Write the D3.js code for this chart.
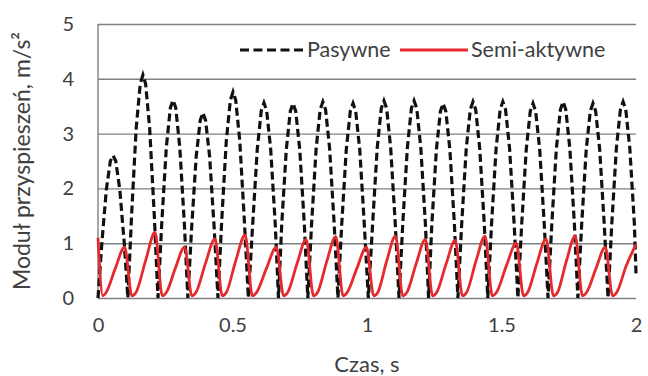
<!DOCTYPE html>
<html>
<head>
<meta charset="utf-8">
<script src="https://cdn.jsdelivr.net/npm/d3@7"></script>
<style>
  body { margin: 0; background: #fff; }
  svg { display: block; }
  text { font-family: Lato, "Open Sans", sans-serif; fill: #404040; }
</style>
</head>
<body>
<svg id="chart"></svg>
<script>
// passive suspension: acceleration modulus, one hump per line
var pasywneT = [
  0, 0.014, 0.031, 0.046, 0.056, 0.066, 0.081, 0.098, 0.111,
  0.125, 0.142, 0.157, 0.167, 0.177, 0.192, 0.209, 0.223,
  0.237, 0.254, 0.269, 0.279, 0.289, 0.304, 0.321, 0.334,
  0.348, 0.365, 0.38, 0.39, 0.4, 0.415, 0.432, 0.446,
  0.46, 0.477, 0.492, 0.502, 0.512, 0.527, 0.544, 0.559,
  0.575, 0.592, 0.607, 0.617, 0.627, 0.642, 0.659, 0.671,
  0.683, 0.7, 0.715, 0.725, 0.735, 0.75, 0.767, 0.78,
  0.794, 0.811, 0.826, 0.836, 0.846, 0.861, 0.878, 0.892,
  0.906, 0.923, 0.938, 0.948, 0.958, 0.973, 0.99, 1.005,
  1.021, 1.038, 1.053, 1.063, 1.073, 1.088, 1.105, 1.119,
  1.133, 1.15, 1.165, 1.175, 1.185, 1.2, 1.217, 1.229,
  1.241, 1.258, 1.273, 1.283, 1.293, 1.308, 1.325, 1.338,
  1.352, 1.369, 1.384, 1.394, 1.404, 1.419, 1.436, 1.449,
  1.463, 1.48, 1.495, 1.505, 1.515, 1.53, 1.547, 1.561,
  1.575, 1.592, 1.607, 1.617, 1.627, 1.642, 1.659, 1.673,
  1.687, 1.704, 1.719, 1.729, 1.739, 1.754, 1.771, 1.784,
  1.798, 1.815, 1.83, 1.84, 1.85, 1.865, 1.882, 1.896,
  1.91, 1.927, 1.942, 1.952, 1.962, 1.977, 1.994, 2.0
];
var pasywneV = [
  0, 0.98, 1.98, 2.5, 2.6, 2.5, 1.98, 0.98, 0,
  1.53, 3.1, 3.91, 4.07, 3.91, 3.1, 1.53, 0,
  1.36, 2.75, 3.47, 3.61, 3.47, 2.75, 1.36, 0,
  1.27, 2.58, 3.24, 3.38, 3.24, 2.58, 1.27, 0,
  1.42, 2.87, 3.61, 3.76, 3.61, 2.87, 1.42, 0,
  1.34, 2.71, 3.42, 3.56, 3.42, 2.71, 1.34, 0,
  1.34, 2.71, 3.41, 3.55, 3.41, 2.71, 1.34, 0,
  1.35, 2.73, 3.44, 3.58, 3.44, 2.73, 1.35, 0,
  1.34, 2.71, 3.41, 3.55, 3.41, 2.71, 1.34, 0,
  1.36, 2.74, 3.46, 3.6, 3.46, 2.74, 1.36, 0,
  1.36, 2.74, 3.46, 3.6, 3.46, 2.74, 1.36, 0,
  1.34, 2.71, 3.41, 3.55, 3.41, 2.71, 1.34, 0,
  1.35, 2.73, 3.44, 3.58, 3.44, 2.73, 1.35, 0,
  1.35, 2.73, 3.44, 3.58, 3.44, 2.73, 1.35, 0,
  1.34, 2.71, 3.41, 3.55, 3.41, 2.71, 1.34, 0,
  1.35, 2.73, 3.44, 3.58, 3.44, 2.73, 1.35, 0,
  1.34, 2.71, 3.41, 3.55, 3.41, 2.71, 1.34, 0,
  1.35, 2.73, 3.44, 3.58, 3.44, 2.73, 1.35, 0.45
];

// semi-active suspension: peak, drop, low point, mid-rise
var semiT = [
  0, 0.018, 0.03, 0.065,
  0.099, 0.126, 0.141, 0.178,
  0.212, 0.239, 0.254, 0.288,
  0.322, 0.349, 0.364, 0.4,
  0.435, 0.462, 0.477, 0.512,
  0.547, 0.574, 0.589, 0.627,
  0.663, 0.69, 0.705, 0.74,
  0.774, 0.801, 0.816, 0.85,
  0.884, 0.911, 0.926, 0.963,
  0.998, 1.025, 1.04, 1.073,
  1.106, 1.133, 1.148, 1.183,
  1.217, 1.244, 1.259, 1.294,
  1.328, 1.355, 1.37, 1.405,
  1.439, 1.466, 1.481, 1.519,
  1.555, 1.582, 1.597, 1.632,
  1.666, 1.693, 1.708, 1.741,
  1.774, 1.801, 1.816, 1.852,
  1.886, 1.913, 1.928, 1.963,
  2.0
];
var semiV = [
  1.1, 0.04, 0.1, 0.55,
  0.93, 0.04, 0.1, 0.7,
  1.2, 0.04, 0.1, 0.55,
  0.93, 0.04, 0.1, 0.64,
  1.08, 0.04, 0.1, 0.68,
  1.15, 0.04, 0.1, 0.55,
  0.93, 0.04, 0.1, 0.63,
  1.07, 0.04, 0.1, 0.66,
  1.12, 0.04, 0.1, 0.55,
  0.93, 0.04, 0.1, 0.67,
  1.13, 0.04, 0.1, 0.63,
  1.07, 0.04, 0.1, 0.62,
  1.05, 0.04, 0.1, 0.67,
  1.13, 0.04, 0.1, 0.6,
  1.0, 0.04, 0.1, 0.64,
  1.08, 0.04, 0.1, 0.67,
  1.13, 0.04, 0.1, 0.55,
  0.93, 0.04, 0.1, 0.58,
  0.98
];

var yTicks = [0, 1, 2, 3, 4, 5];
var xTicks = [0, 0.5, 1, 1.5, 2];
var xLabels = ['0', '0.5', '1', '1.5', '2'];
var seriesNames = ['Pasywne', 'Semi-aktywne'];

var width = 648,
    height = 376,
    margin = {top: 24, right: 12, bottom: 78, left: 98},
    innerW = width - margin.left - margin.right,
    innerH = height - margin.top - margin.bottom;

var svg = d3.select('#chart').attr('width', width).attr('height', height);

var x = d3.scaleLinear().domain([0, 2]).range([0, innerW]),
    y = d3.scaleLinear().domain([0, 5]).range([innerH, 0]);

var g = svg.append('g').attr('transform', 'translate(' + margin.left + ',' + margin.top + ')');

// horizontal gridlines
var grid = g.append('g').call(d3.axisLeft(y).tickValues(yTicks).tickSize(-innerW).tickFormat(''));
grid.select('.domain').remove();
grid.selectAll('line').attr('stroke', '#808080').attr('stroke-width', 1.4);

// left border
g.append('line')
  .attr('x1', 0).attr('x2', 0).attr('y1', 0).attr('y2', innerH)
  .attr('stroke', '#808080').attr('stroke-width', 1.4);

// y tick labels
var yAxis = g.append('g').call(d3.axisLeft(y).tickValues(yTicks).tickSize(0).tickPadding(24).tickFormat(d3.format('d')));
yAxis.select('.domain').remove();
yAxis.selectAll('text').style('font-size', '20px').attr('fill', '#404040');

// x tick labels
var xAxis = g.append('g').attr('transform', 'translate(0,' + innerH + ')')
  .call(d3.axisBottom(x).tickValues(xTicks).tickSize(0).tickPadding(20).tickFormat(function(d, i) { return xLabels[i]; }));
xAxis.select('.domain').remove();
xAxis.selectAll('text').style('font-size', '20px').attr('fill', '#404040');

// axis titles
svg.append('text')
  .attr('x', margin.left + innerW / 2).attr('y', 372)
  .attr('text-anchor', 'middle').style('font-size', '22px')
  .text('Czas, s');

svg.append('text')
  .attr('transform', 'translate(30,161) rotate(-90)')
  .attr('text-anchor', 'middle').style('font-size', '23px')
  .text('Moduł przyspieszeń, m/s²');

var line = d3.line()
  .x(function(d) { return x(d[0]); })
  .y(function(d) { return y(d[1]); });

var pasywne = d3.zip(pasywneT, pasywneV),
    semi = d3.zip(semiT, semiV);

g.append('path').datum(pasywne)
  .attr('d', line)
  .attr('fill', 'none')
  .attr('stroke', '#111')
  .attr('stroke-width', 3.2)
  .attr('stroke-dasharray', '8,4');

g.append('path').datum(semi)
  .attr('d', line.curve(d3.curveMonotoneX))
  .attr('fill', 'none')
  .attr('stroke', '#e52a2e')
  .attr('stroke-width', 2.8)
  .attr('stroke-linejoin', 'round');

// legend
var legend = svg.append('g').attr('transform', 'translate(0,50)');
legend.append('line')
  .attr('x1', 240).attr('x2', 305).attr('y1', 0).attr('y2', 0)
  .attr('stroke', '#111').attr('stroke-width', 3.2).attr('stroke-dasharray', '9,4.5');
legend.append('text').attr('x', 307).attr('y', 7).style('font-size', '21.5px').text(seriesNames[0]);
legend.append('line')
  .attr('x1', 400).attr('x2', 468).attr('y1', 0).attr('y2', 0)
  .attr('stroke', '#e52a2e').attr('stroke-width', 2.8);
legend.append('text').attr('x', 471).attr('y', 7).style('font-size', '21.5px').text(seriesNames[1]);
</script>
</body>
</html>
